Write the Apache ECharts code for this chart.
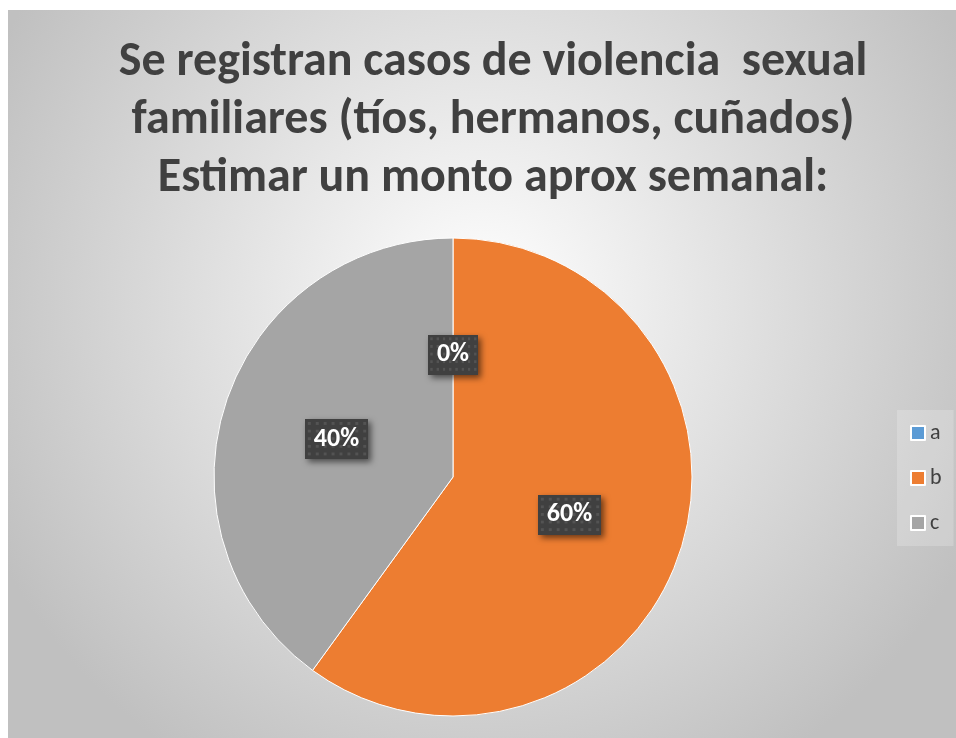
<!DOCTYPE html>
<html>
<head>
<meta charset="utf-8">
<script src="https://cdn.jsdelivr.net/npm/echarts@6/dist/echarts.min.js"></script>
<style>
html,body{margin:0;padding:0;background:#fff;}
#c{width:956px;height:738px;}
</style>
</head>
<body>
<div id="c"></div>
<script>
const titleLines = ['Se registran casos de violencia  sexual', 'familiares (tíos, hermanos, cuñados)', 'Estimar un monto aprox semanal:'];
const categories = ['a', 'b', 'c'];
const values = [0, 60, 40];
const colors = ['#5B9BD5', '#ED7D31', '#A5A5A5'];

const FONT = "Carlito, 'Liberation Sans Narrow', 'Open Sans', sans-serif";

function patternCanvas(w, h) {
  const cv = document.createElement('canvas');
  cv.width = w; cv.height = h;
  const ctx = cv.getContext('2d');
  ctx.fillStyle = '#404040';
  ctx.fillRect(0, 0, w, h);
  ctx.fillStyle = '#535353';
  for (let y = 3; y < h; y += 8) {
    for (let x = 3; x < w; x += 8) {
      ctx.fillRect(x, y, 3, 3);
    }
  }
  return cv;
}
const pat = patternCanvas(64, 42);

const chart = echarts.init(document.getElementById('c'));
chart.setOption({
  animation: false,
  graphic: [{
    type: 'rect',
    z: -10,
    silent: true,
    shape: { x: 8, y: 10, width: 948, height: 728 },
    style: {
      fill: {
        type: 'radial', x: 0.5, y: 0.4, r: 0.75,
        colorStops: [{ offset: 0, color: '#ffffff' }, { offset: 1, color: '#c0c0c0' }]
      }
    }
  }],
  title: {
    text: titleLines.join('\n'),
    left: 488,
    top: 29,
    textAlign: 'center',
    textStyle: {
      fontFamily: FONT,
      fontWeight: 'bold',
      fontSize: 48,
      lineHeight: 58,
      color: '#404040'
    }
  },
  legend: {
    orient: 'vertical',
    left: 897,
    top: 410,
    padding: [12, 12, 12, 13],
    itemGap: 23,
    itemWidth: 14,
    itemHeight: 14,
    icon: 'rect',
    backgroundColor: 'rgba(255,255,255,0.2)',
    data: categories,
    textStyle: { fontFamily: FONT, fontSize: 22, lineHeight: 22, color: '#404040' }
  },
  color: colors,
  series: [{
    type: 'pie',
    center: [453, 477],
    radius: 239,
    startAngle: 90,
    clockwise: true,
    percentPrecision: 0,
    itemStyle: { borderColor: '#ffffff', borderWidth: 1 },
    label: {
      show: true,
      position: 'inside',
      formatter: '{d}%',
      fontFamily: FONT,
      fontWeight: 'bold',
      fontSize: 26,
      color: '#ffffff',
      backgroundColor: { image: pat },
      padding: [8, 9, 6, 9],
      shadowColor: 'rgba(0,0,0,0.55)',
      shadowBlur: 6,
      shadowOffsetX: 3,
      shadowOffsetY: 3
    },
    labelLine: { show: false },
    emphasis: { disabled: true },
    data: categories.map((n, i) => ({ name: n, value: values[i] }))
  }]
});
</script>
</body>
</html>
